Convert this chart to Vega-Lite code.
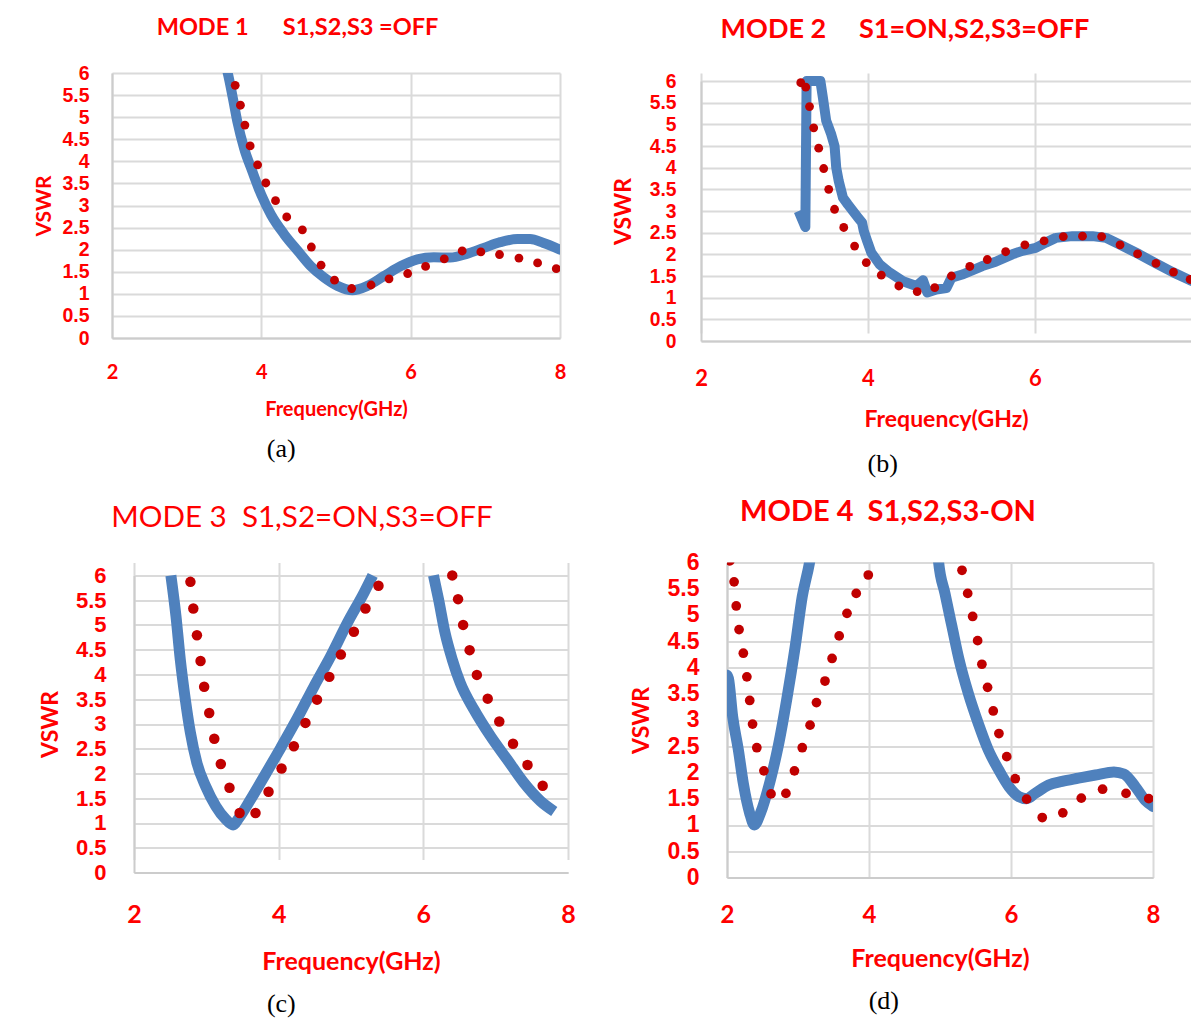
{
  "$schema": "https://vega.github.io/schema/vega-lite/v6.json",
  "background": "#ffffff",
  "padding": {"left": 33, "top": 16, "right": 0, "bottom": 0},
  "datasets": {
    "a_sim": [
      {"f": 3.50, "v": 6.3}, {"f": 3.55, "v": 6.0}, {"f": 3.62, "v": 5.42}, {"f": 3.68, "v": 4.89}, {"f": 3.77, "v": 4.29},
      {"f": 3.88, "v": 3.77}, {"f": 4.0, "v": 3.24}, {"f": 4.13, "v": 2.79}, {"f": 4.31, "v": 2.34}, {"f": 4.49, "v": 1.97},
      {"f": 4.66, "v": 1.63}, {"f": 4.84, "v": 1.37}, {"f": 5.02, "v": 1.18}, {"f": 5.22, "v": 1.08}, {"f": 5.42, "v": 1.18},
      {"f": 5.64, "v": 1.40}, {"f": 5.87, "v": 1.63}, {"f": 6.09, "v": 1.78}, {"f": 6.31, "v": 1.83}, {"f": 6.53, "v": 1.82},
      {"f": 6.76, "v": 1.91}, {"f": 6.98, "v": 2.04}, {"f": 7.20, "v": 2.17}, {"f": 7.43, "v": 2.24}, {"f": 7.60, "v": 2.24},
      {"f": 7.78, "v": 2.15}, {"f": 8.0, "v": 2.0}
    ],
    "a_meas": [
      {"f": 3.65, "v": 5.72}, {"f": 3.72, "v": 5.27}, {"f": 3.78, "v": 4.82}, {"f": 3.85, "v": 4.35}, {"f": 3.95, "v": 3.92},
      {"f": 4.06, "v": 3.51}, {"f": 4.19, "v": 3.11}, {"f": 4.34, "v": 2.74}, {"f": 4.55, "v": 2.45}, {"f": 4.67, "v": 2.06},
      {"f": 4.80, "v": 1.65}, {"f": 4.98, "v": 1.31}, {"f": 5.21, "v": 1.12}, {"f": 5.47, "v": 1.20}, {"f": 5.71, "v": 1.34},
      {"f": 5.96, "v": 1.46}, {"f": 6.20, "v": 1.62}, {"f": 6.45, "v": 1.79}, {"f": 6.69, "v": 1.97}, {"f": 6.94, "v": 1.95},
      {"f": 7.19, "v": 1.89}, {"f": 7.45, "v": 1.81}, {"f": 7.70, "v": 1.70}, {"f": 7.95, "v": 1.57}
    ],
    "b_sim": [
      {"f": 3.17, "v": 3.0}, {"f": 3.21, "v": 2.81}, {"f": 3.25, "v": 2.63}, {"f": 3.265, "v": 6.0}, {"f": 3.43, "v": 6.0},
      {"f": 3.46, "v": 5.62}, {"f": 3.50, "v": 5.08}, {"f": 3.56, "v": 4.77}, {"f": 3.60, "v": 4.5},
      {"f": 3.62, "v": 4.0}, {"f": 3.65, "v": 3.69}, {"f": 3.70, "v": 3.31}, {"f": 3.76, "v": 3.15}, {"f": 3.82, "v": 3.0},
      {"f": 3.88, "v": 2.85}, {"f": 3.93, "v": 2.73}, {"f": 3.95, "v": 2.54}, {"f": 3.99, "v": 2.31}, {"f": 4.04, "v": 2.04},
      {"f": 4.14, "v": 1.77}, {"f": 4.26, "v": 1.58}, {"f": 4.42, "v": 1.38}, {"f": 4.58, "v": 1.27}, {"f": 4.66, "v": 1.40},
      {"f": 4.71, "v": 1.12}, {"f": 4.82, "v": 1.19}, {"f": 4.94, "v": 1.22}, {"f": 5.0, "v": 1.46}, {"f": 5.14, "v": 1.54},
      {"f": 5.37, "v": 1.73}, {"f": 5.53, "v": 1.83}, {"f": 5.73, "v": 2.0}, {"f": 5.85, "v": 2.08}, {"f": 6.01, "v": 2.15},
      {"f": 6.13, "v": 2.27}, {"f": 6.25, "v": 2.38}, {"f": 6.45, "v": 2.42}, {"f": 6.69, "v": 2.42}, {"f": 6.85, "v": 2.38},
      {"f": 7.01, "v": 2.23}, {"f": 7.25, "v": 2.0}, {"f": 7.45, "v": 1.79}, {"f": 7.65, "v": 1.59}, {"f": 7.86, "v": 1.40},
      {"f": 8.0, "v": 1.3}
    ],
    "b_meas": [
      {"f": 3.195, "v": 5.96}, {"f": 3.255, "v": 5.86}, {"f": 3.30, "v": 5.41}, {"f": 3.35, "v": 4.92}, {"f": 3.41, "v": 4.45},
      {"f": 3.47, "v": 3.98}, {"f": 3.53, "v": 3.50}, {"f": 3.60, "v": 3.04}, {"f": 3.71, "v": 2.62}, {"f": 3.84, "v": 2.19},
      {"f": 3.98, "v": 1.81}, {"f": 4.16, "v": 1.52}, {"f": 4.37, "v": 1.27}, {"f": 4.59, "v": 1.14}, {"f": 4.80, "v": 1.23},
      {"f": 5.00, "v": 1.50}, {"f": 5.22, "v": 1.72}, {"f": 5.43, "v": 1.88}, {"f": 5.65, "v": 2.06}, {"f": 5.88, "v": 2.22},
      {"f": 6.11, "v": 2.31}, {"f": 6.34, "v": 2.41}, {"f": 6.57, "v": 2.42}, {"f": 6.80, "v": 2.41}, {"f": 7.02, "v": 2.22},
      {"f": 7.23, "v": 2.01}, {"f": 7.45, "v": 1.79}, {"f": 7.66, "v": 1.59}, {"f": 7.86, "v": 1.42}
    ],
    "c_sim": [
      {"f": 2.51, "v": 6.0, "seg": 1}, {"f": 2.58, "v": 5.18, "seg": 1}, {"f": 2.64, "v": 4.30, "seg": 1},
      {"f": 2.71, "v": 3.49, "seg": 1}, {"f": 2.78, "v": 2.82, "seg": 1}, {"f": 2.87, "v": 2.21, "seg": 1}, {"f": 2.99, "v": 1.74, "seg": 1},
      {"f": 3.13, "v": 1.34, "seg": 1}, {"f": 3.27, "v": 1.07, "seg": 1}, {"f": 3.37, "v": 0.96, "seg": 1}, {"f": 3.45, "v": 1.10, "seg": 1},
      {"f": 3.61, "v": 1.47, "seg": 1}, {"f": 3.80, "v": 1.94, "seg": 1}, {"f": 4.03, "v": 2.52, "seg": 1}, {"f": 4.26, "v": 3.12, "seg": 1},
      {"f": 4.49, "v": 3.76, "seg": 1}, {"f": 4.72, "v": 4.37, "seg": 1}, {"f": 4.95, "v": 5.04, "seg": 1}, {"f": 5.18, "v": 5.65, "seg": 1},
      {"f": 5.30, "v": 6.0, "seg": 1},
      {"f": 6.14, "v": 6.0, "seg": 2}, {"f": 6.21, "v": 5.52, "seg": 2}, {"f": 6.30, "v": 4.84, "seg": 2},
      {"f": 6.40, "v": 4.30, "seg": 2}, {"f": 6.51, "v": 3.83, "seg": 2}, {"f": 6.70, "v": 3.29, "seg": 2}, {"f": 6.93, "v": 2.75, "seg": 2},
      {"f": 7.16, "v": 2.28, "seg": 2}, {"f": 7.39, "v": 1.81, "seg": 2}, {"f": 7.62, "v": 1.44, "seg": 2}, {"f": 7.81, "v": 1.23, "seg": 2}
    ],
    "c_meas": [
      {"f": 2.78, "v": 5.87}, {"f": 2.82, "v": 5.33}, {"f": 2.87, "v": 4.79}, {"f": 2.92, "v": 4.27}, {"f": 2.97, "v": 3.75},
      {"f": 3.04, "v": 3.22}, {"f": 3.11, "v": 2.70}, {"f": 3.20, "v": 2.19}, {"f": 3.32, "v": 1.71}, {"f": 3.46, "v": 1.20},
      {"f": 3.68, "v": 1.20}, {"f": 3.86, "v": 1.63}, {"f": 4.04, "v": 2.10}, {"f": 4.21, "v": 2.55}, {"f": 4.37, "v": 3.02},
      {"f": 4.53, "v": 3.49}, {"f": 4.70, "v": 3.95}, {"f": 4.86, "v": 4.40}, {"f": 5.04, "v": 4.86}, {"f": 5.20, "v": 5.33},
      {"f": 5.38, "v": 5.79},
      {"f": 6.40, "v": 6.0}, {"f": 6.48, "v": 5.52}, {"f": 6.55, "v": 5.00}, {"f": 6.64, "v": 4.49}, {"f": 6.74, "v": 3.99},
      {"f": 6.89, "v": 3.51}, {"f": 7.05, "v": 3.05}, {"f": 7.24, "v": 2.60}, {"f": 7.44, "v": 2.17}, {"f": 7.65, "v": 1.75}
    ],
    "d_sim": [
      {"f": 2.0, "v": 3.85, "seg": 1}, {"f": 2.02, "v": 3.79, "seg": 1}, {"f": 2.08, "v": 3.06, "seg": 1}, {"f": 2.16, "v": 2.43, "seg": 1},
      {"f": 2.23, "v": 1.79, "seg": 1}, {"f": 2.32, "v": 1.22, "seg": 1}, {"f": 2.385, "v": 1.0, "seg": 1}, {"f": 2.47, "v": 1.22, "seg": 1},
      {"f": 2.61, "v": 1.85, "seg": 1}, {"f": 2.72, "v": 2.49, "seg": 1}, {"f": 2.84, "v": 3.38, "seg": 1}, {"f": 2.96, "v": 4.39, "seg": 1},
      {"f": 3.06, "v": 5.35, "seg": 1}, {"f": 3.16, "v": 5.98, "seg": 1}, {"f": 3.20, "v": 6.3, "seg": 1},
      {"f": 4.96, "v": 6.3, "seg": 2}, {"f": 4.98, "v": 6.01, "seg": 2}, {"f": 5.07, "v": 5.41, "seg": 2}, {"f": 5.17, "v": 4.77, "seg": 2},
      {"f": 5.27, "v": 4.14, "seg": 2}, {"f": 5.40, "v": 3.50, "seg": 2}, {"f": 5.54, "v": 2.93, "seg": 2}, {"f": 5.68, "v": 2.43, "seg": 2},
      {"f": 5.83, "v": 2.04, "seg": 2}, {"f": 5.97, "v": 1.73, "seg": 2}, {"f": 6.11, "v": 1.54, "seg": 2}, {"f": 6.22, "v": 1.50, "seg": 2},
      {"f": 6.34, "v": 1.60, "seg": 2}, {"f": 6.53, "v": 1.76, "seg": 2}, {"f": 6.72, "v": 1.83, "seg": 2}, {"f": 6.95, "v": 1.89, "seg": 2},
      {"f": 7.19, "v": 1.95, "seg": 2}, {"f": 7.45, "v": 2.01, "seg": 2}, {"f": 7.59, "v": 1.97, "seg": 2}, {"f": 7.75, "v": 1.73, "seg": 2},
      {"f": 7.89, "v": 1.47, "seg": 2}, {"f": 8.0, "v": 1.35, "seg": 2}
    ],
    "d_meas": [
      {"f": 2.04, "v": 6.03}, {"f": 2.10, "v": 5.63}, {"f": 2.13, "v": 5.17}, {"f": 2.17, "v": 4.72}, {"f": 2.23, "v": 4.27},
      {"f": 2.28, "v": 3.82}, {"f": 2.32, "v": 3.37}, {"f": 2.36, "v": 2.92}, {"f": 2.42, "v": 2.47}, {"f": 2.52, "v": 2.03},
      {"f": 2.62, "v": 1.59}, {"f": 2.83, "v": 1.60}, {"f": 2.95, "v": 2.03}, {"f": 3.06, "v": 2.47}, {"f": 3.17, "v": 2.90},
      {"f": 3.26, "v": 3.33}, {"f": 3.38, "v": 3.74}, {"f": 3.48, "v": 4.17}, {"f": 3.58, "v": 4.60}, {"f": 3.69, "v": 5.03},
      {"f": 3.82, "v": 5.41}, {"f": 3.99, "v": 5.76},
      {"f": 5.31, "v": 5.85}, {"f": 5.39, "v": 5.41}, {"f": 5.46, "v": 4.97}, {"f": 5.53, "v": 4.51}, {"f": 5.59, "v": 4.06},
      {"f": 5.67, "v": 3.62}, {"f": 5.75, "v": 3.17}, {"f": 5.83, "v": 2.74}, {"f": 5.94, "v": 2.30}, {"f": 6.06, "v": 1.88},
      {"f": 6.22, "v": 1.49}, {"f": 6.44, "v": 1.14}, {"f": 6.73, "v": 1.23}, {"f": 6.99, "v": 1.51}, {"f": 7.29, "v": 1.68},
      {"f": 7.62, "v": 1.60}, {"f": 7.94, "v": 1.50}
    ]
  },
  "concat": [
    {
      "concat": [
        {
          "title": {"text": "(a)", "orient": "bottom", "frame": "bounds", "anchor": "middle", "font": "Liberation Serif", "fontSize": 26, "fontWeight": "normal", "color": "#000000", "dx": -18.4, "offset": 17},
          "vconcat": [
            {
              "width": 448, "height": 265,
              "title": {"text": "MODE 1\u00a0\u00a0\u00a0\u00a0\u00a0\u00a0S1,S2,S3 =OFF", "fontSize": 23.5, "fontWeight": "bold", "dx": -38.5, "offset": 23.5},
              "encoding": {
                "x": {"field": "f", "type": "quantitative", "scale": {"domain": [2, 8], "nice": false, "zero": false}, "title": "Frequency(GHz)",
                      "axis": {"values": [2, 4, 6, 8], "format": "~g", "labelFontSize": 20, "titleFontSize": 20, "labelPadding": 24, "titlePadding": 17}},
                "y": {"field": "v", "type": "quantitative", "scale": {"domain": [0, 6], "nice": false, "zero": true}, "title": "VSWR",
                      "axis": {"values": [0, 0.5, 1, 1.5, 2, 2.5, 3, 3.5, 4, 4.5, 5, 5.5, 6], "tickCount": 13, "format": "~g", "labelFont": "Liberation Sans", "labelFontSize": 19.5, "titleFontSize": 21, "labelPadding": 23, "titlePadding": 7.5}}
              },
              "layer": [
                {"data": {"name": "a_sim"}, "mark": {"type": "line", "color": "#4F81BD", "strokeWidth": 10, "interpolate": "monotone", "clip": true, "strokeCap": "round", "strokeJoin": "round"}},
                {"data": {"name": "a_meas"}, "mark": {"type": "circle", "color": "#C00000", "size": 78, "opacity": 1, "clip": true}}
              ]
            }
          ]
        },
        {
          "title": {"text": "(b)", "orient": "bottom", "frame": "bounds", "anchor": "middle", "font": "Liberation Serif", "fontSize": 26, "fontWeight": "normal", "color": "#000000", "dx": -18.9, "offset": 20},
          "vconcat": [
            {
              "width": 490, "height": 268,
              "title": {"text": "MODE 2\u00a0\u00a0\u00a0\u00a0\u00a0S1=ON,S2,S3=OFF", "fontSize": 27, "fontWeight": "bold", "dx": -41, "offset": 28},
              "encoding": {
                "x": {"field": "f", "type": "quantitative", "scale": {"domain": [2, 7.87], "nice": false, "zero": false}, "title": "Frequency(GHz)",
                      "axis": {"values": [2, 4, 6], "format": "~g", "labelFontSize": 22, "titleFontSize": 23, "labelPadding": 27, "titlePadding": 19}},
                "y": {"field": "v", "type": "quantitative", "scale": {"domain": [0, 6], "nice": false, "zero": true, "range": [268, 8]}, "title": "VSWR",
                      "axis": {"values": [0, 0.5, 1, 1.5, 2, 2.5, 3, 3.5, 4, 4.5, 5, 5.5, 6], "tickCount": 13, "format": "~g", "labelFont": "Liberation Sans", "labelFontSize": 19.3, "titleFontSize": 23, "labelPadding": 25, "titlePadding": 14}}
              },
              "layer": [
                {"data": {"name": "b_sim"}, "mark": {"type": "line", "color": "#4F81BD", "strokeWidth": 10, "interpolate": "linear", "clip": true, "strokeCap": "butt", "strokeJoin": "round"}},
                {"data": {"name": "b_meas"}, "mark": {"type": "circle", "color": "#C00000", "size": 78, "opacity": 1, "clip": true}}
              ]
            }
          ]
        }
      ],
      "align": "none",
      "spacing": 46
    },
    {
      "concat": [
        {
          "title": {"text": "(c)", "orient": "bottom", "frame": "bounds", "anchor": "middle", "font": "Liberation Serif", "fontSize": 26, "fontWeight": "normal", "color": "#000000", "dx": -26, "offset": 17},
          "vconcat": [
            {
              "width": 456, "height": 310,
              "title": {"text": "MODE 3\u00a0\u00a0S1,S2=ON,S3=OFF", "fontSize": 29.6, "fontWeight": "normal", "dx": -38, "offset": 29},
              "encoding": {
                "x": {"field": "f", "type": "quantitative", "scale": {"domain": [2, 8], "nice": false, "zero": false, "range": [22, 456]}, "title": "Frequency(GHz)",
                      "axis": {"values": [2, 4, 6, 8], "format": "~g", "labelFontSize": 25, "titleFontSize": 25, "labelPadding": 30, "titlePadding": 22}},
                "y": {"field": "v", "type": "quantitative", "scale": {"domain": [0, 6], "nice": false, "zero": true, "range": [310, 13]}, "title": "VSWR",
                      "axis": {"values": [0, 0.5, 1, 1.5, 2, 2.5, 3, 3.5, 4, 4.5, 5, 5.5, 6], "tickCount": 13, "format": "~g", "labelFont": "Liberation Sans", "labelFontSize": 22, "titleFontSize": 23, "labelPadding": 28, "titlePadding": 13, "offset": -22}}
              },
              "layer": [
                {"data": {"name": "c_sim"}, "mark": {"type": "line", "color": "#4F81BD", "strokeWidth": 11, "interpolate": "monotone", "clip": true, "strokeCap": "butt", "strokeJoin": "round"},
                 "encoding": {"detail": {"field": "seg", "type": "nominal"}}},
                {"data": {"name": "c_meas"}, "mark": {"type": "circle", "color": "#C00000", "size": 110, "opacity": 1, "clip": true}}
              ]
            }
          ]
        },
        {
          "title": {"text": "(d)", "orient": "bottom", "frame": "bounds", "anchor": "middle", "font": "Liberation Serif", "fontSize": 26, "fontWeight": "normal", "color": "#000000", "dx": -11.2, "offset": 17},
          "vconcat": [
            {
              "width": 426, "height": 315,
              "title": {"text": "MODE 4\u00a0\u00a0S1,S2,S3-ON", "fontSize": 29, "fontWeight": "bold", "dx": -52, "offset": 24},
              "encoding": {
                "x": {"field": "f", "type": "quantitative", "scale": {"domain": [2, 8], "nice": false, "zero": false}, "title": "Frequency(GHz)",
                      "axis": {"values": [2, 4, 6, 8], "format": "~g", "labelFontSize": 24, "titleFontSize": 25, "labelPadding": 26, "titlePadding": 19}},
                "y": {"field": "v", "type": "quantitative", "scale": {"domain": [0, 6], "nice": false, "zero": true}, "title": "VSWR",
                      "axis": {"values": [0, 0.5, 1, 1.5, 2, 2.5, 3, 3.5, 4, 4.5, 5, 5.5, 6], "tickCount": 13, "format": "~g", "labelFont": "Liberation Sans", "labelFontSize": 23, "titleFontSize": 23, "labelPadding": 28, "titlePadding": 14}}
              },
              "layer": [
                {"data": {"name": "d_sim"}, "mark": {"type": "line", "color": "#4F81BD", "strokeWidth": 11, "interpolate": "monotone", "clip": true, "strokeCap": "round", "strokeJoin": "round"},
                 "encoding": {"detail": {"field": "seg", "type": "nominal"}}},
                {"data": {"name": "d_meas"}, "mark": {"type": "circle", "color": "#C00000", "size": 95, "opacity": 1, "clip": true}}
              ]
            }
          ]
        }
      ],
      "align": "none",
      "spacing": 54
    }
  ],
  "columns": 1,
  "align": "none",
  "spacing": 21.4,
  "config": {
    "font": "Lato",
    "view": {"stroke": null},
    "axis": {
      "labelColor": "#ff0000", "titleColor": "#ff0000", "labelFont": "Lato", "titleFont": "Lato",
      "labelFontWeight": "bold", "titleFontWeight": "bold",
      "grid": true, "gridColor": "#dadada", "gridWidth": 2,
      "domain": true, "domainColor": "#cccccc", "domainWidth": 2,
      "ticks": false, "tickSize": 0, "labelFlush": false, "labelOverlap": false, "labelBound": false
    },
    "title": {"color": "#ff0000", "font": "Lato", "anchor": "middle", "frame": "group"}
  }
}
